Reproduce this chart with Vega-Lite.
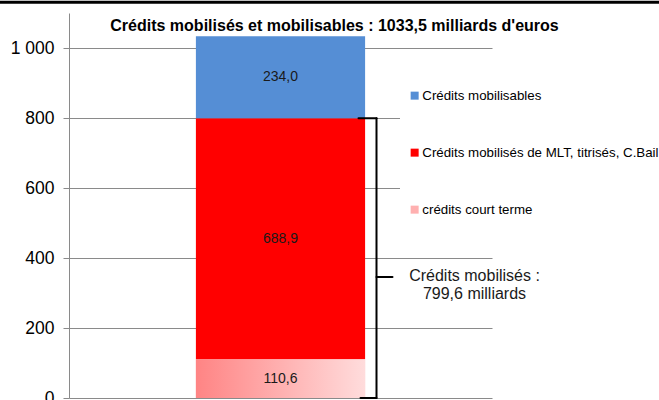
{
  "$schema": "https://vega.github.io/schema/vega-lite/v6.json",
  "autosize": {"type": "none"},
  "padding": {"left": 69, "top": 13, "right": 167, "bottom": 2},
  "width": 423,
  "height": 385,
  "background": "white",
  "title": {
    "text": "Crédits mobilisés et mobilisables : 1033,5 milliards d'euros",
    "fontSize": 16,
    "fontWeight": "bold",
    "font": "Liberation Sans",
    "color": "#000000",
    "anchor": "middle",
    "dx": 54,
    "offset": -33
  },
  "data": {
    "values": [
      {"cat": "Crédits", "serie": "crédits court terme", "value": 110.6, "ordre": 1},
      {"cat": "Crédits", "serie": "Crédits mobilisés de MLT, titrisés, C.Bail", "value": 688.9, "ordre": 2},
      {"cat": "Crédits", "serie": "Crédits mobilisables", "value": 234.0, "ordre": 3}
    ]
  },
  "layer": [
    {
      "mark": {"type": "bar"},
      "encoding": {
        "x": {"field": "cat", "type": "nominal", "axis": null, "scale": {"paddingInner": 0.6, "paddingOuter": 0.3}},
        "y": {
          "field": "value", "type": "quantitative", "stack": "zero",
          "scale": {"domain": [0, 1100], "nice": false},
          "axis": {
            "values": [0, 200, 400, 600, 800, 1000],
            "format": ",.0f",
            "title": null,
            "grid": true,
            "gridColor": "#8a8a8a",
            "gridWidth": 1,
            "domainColor": "#8a8a8a",
            "tickColor": "#8a8a8a",
            "tickSize": 6,
            "labelFontSize": 17.5,
            "labelFont": "Liberation Sans",
            "labelColor": "#000000",
            "labelPadding": 9
          }
        },
        "order": {"field": "ordre", "type": "quantitative"},
        "color": {
          "field": "serie", "type": "nominal",
          "scale": {
            "domain": ["Crédits mobilisables", "Crédits mobilisés de MLT, titrisés, C.Bail", "crédits court terme"],
            "range": ["#558ED5", "#FF0000", "#FFB0B0"]
          },
          "legend": {
            "title": null,
            "orient": "none",
            "legendX": 331,
            "legendY": 68,
            "padding": 8,
            "fillColor": "white",
            "symbolType": "square",
            "symbolSize": 64,
            "symbolStrokeWidth": 0,
            "labelFontSize": 13.3,
            "labelFont": "Liberation Sans",
            "labelColor": "#000000",
            "labelOffset": 1,
            "rowPadding": 43,
            "labelLimit": 400,
            "encode": {
              "symbols": {
                "update": {
                  "fill": [
                    {"test": "datum.value === 'crédits court terme'",
                     "value": {"gradient": "linear", "x1": 0, "y1": 0.5, "x2": 1, "y2": 0.5,
                               "stops": [{"offset": 0, "color": "#FF7070"}, {"offset": 1, "color": "#FFE8E8"}]}},
                    {"scale": "color", "field": "value"}
                  ]
                }
              }
            }
          }
        }
      }
    },
    {
      "transform": [{"filter": "datum.ordre === 1"}],
      "mark": {
        "type": "bar",
        "fill": {"gradient": "linear", "x1": 0, "y1": 0.5, "x2": 1, "y2": 0.5,
                 "stops": [{"offset": 0, "color": "#FF8484"}, {"offset": 1, "color": "#FFDCDC"}]}
      },
      "encoding": {
        "x": {"field": "cat", "type": "nominal"},
        "y": {"field": "value", "type": "quantitative"}
      }
    },
    {
      "transform": [
        {"stack": "value", "groupby": ["cat"], "sort": [{"field": "ordre"}], "as": ["v0", "v1"]},
        {"calculate": "(datum.v0 + datum.v1) / 2", "as": "mid"}
      ],
      "mark": {"type": "text", "fontSize": 14, "font": "Liberation Sans", "color": "#1a1a1a", "baseline": "middle"},
      "encoding": {
        "x": {"field": "cat", "type": "nominal"},
        "y": {"field": "mid", "type": "quantitative"},
        "text": {"field": "value", "type": "quantitative", "format": ".1f"}
      }
    },
    {
      "data": {"values": [{}]},
      "mark": {"type": "rule", "color": "black", "strokeWidth": 2, "xOffset": 96, "strokeCap": "round"},
      "encoding": {
        "x": {"datum": "Crédits", "type": "nominal"},
        "y": {"datum": 799.6, "type": "quantitative"},
        "y2": {"datum": 0}
      }
    },
    {
      "data": {"values": [{}]},
      "mark": {"type": "rule", "color": "black", "strokeWidth": 2, "xOffset": 78, "x2Offset": 96, "strokeCap": "round"},
      "encoding": {
        "x": {"datum": "Crédits", "type": "nominal"},
        "x2": {"datum": "Crédits"},
        "y": {"datum": 799.6, "type": "quantitative"}
      }
    },
    {
      "data": {"values": [{}]},
      "mark": {"type": "rule", "color": "black", "strokeWidth": 2, "xOffset": 80, "x2Offset": 96, "strokeCap": "round"},
      "encoding": {
        "x": {"datum": "Crédits", "type": "nominal"},
        "x2": {"datum": "Crédits"},
        "y": {"datum": 0, "type": "quantitative"}
      }
    },
    {
      "data": {"values": [{}]},
      "mark": {"type": "rule", "color": "black", "strokeWidth": 2, "xOffset": 96, "x2Offset": 112, "strokeCap": "round"},
      "encoding": {
        "x": {"datum": "Crédits", "type": "nominal"},
        "x2": {"datum": "Crédits"},
        "y": {"datum": 346, "type": "quantitative"}
      }
    },
    {
      "data": {"values": [{}]},
      "mark": {"type": "text", "fontSize": 16, "font": "Liberation Sans", "color": "#1a1a1a", "baseline": "middle", "align": "center", "xOffset": 194, "dy": -1, "lineHeight": 18},
      "encoding": {
        "x": {"datum": "Crédits", "type": "nominal"},
        "y": {"datum": 346, "type": "quantitative"},
        "text": {"value": ["Crédits mobilisés :", "799,6 milliards"]}
      }
    },
    {
      "data": {"values": [{}]},
      "mark": {"type": "rule", "color": "black", "strokeWidth": 3, "xOffset": -281, "x2Offset": 379},
      "encoding": {
        "x": {"datum": "Crédits", "type": "nominal"},
        "x2": {"datum": "Crédits"},
        "y": {"datum": 1131, "type": "quantitative"}
      }
    }
  ],
  "config": {
    "view": {"stroke": null},
    "locale": {"number": {"decimal": ",", "thousands": " ", "grouping": [3], "currency": ["", " €"]}}
  }
}
